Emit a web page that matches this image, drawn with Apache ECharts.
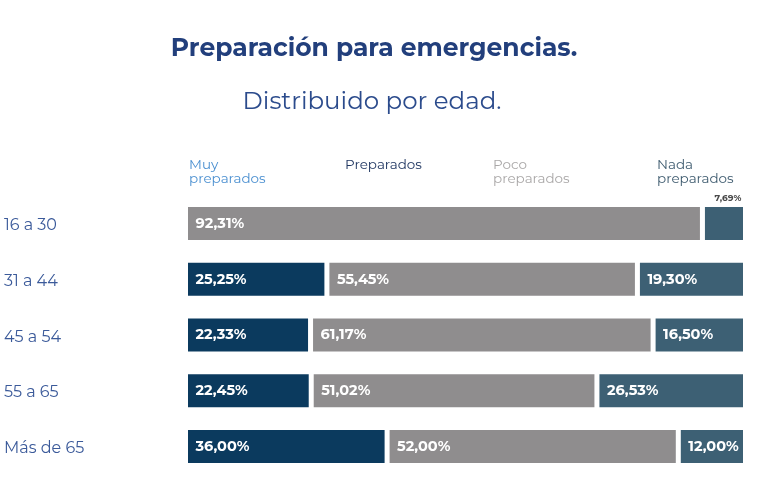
<!DOCTYPE html>
<html><head><meta charset="utf-8">
<script src="https://cdn.jsdelivr.net/npm/echarts@6/dist/echarts.min.js"></script>
<style>html,body{margin:0;padding:0;background:#fff}#c{width:760px;height:503px}</style>
</head><body><div id="c"></div>
<script>
const categories = ['16 a 30', '31 a 44', '45 a 54', '55 a 65', 'Más de 65'];
const seriesNames = ['Muy\npreparados', 'Preparados', 'Poco\npreparados', 'Nada\npreparados'];
const muyPreparados = [0, 0, 0, 0, 0];
const preparados = [0, 25.25, 22.33, 22.45, 36.00];
const pocoPreparados = [92.31, 55.45, 61.17, 51.02, 52.00];
const nadaPreparados = [7.69, 19.30, 16.50, 26.53, 12.00];

const barColors = ['#4a8fd0', '#0b3a5e', '#8f8d8e', '#3d6074'];
const headerColors = ['#4a8fd0', '#1e3560', '#a9a7a7', '#3d5a6e'];
const headerX = [189, 345, 493, 657];
const FONT = 'Montserrat, "Noto Sans", Lato, sans-serif';

function fmt(v) { return v.toFixed(2).replace('.', ',') + '%'; }

const allData = [muyPreparados, preparados, pocoPreparados, nadaPreparados];
const series = allData.map((d, i) => ({
  name: seriesNames[i],
  type: 'bar',
  stack: 'total',
  barWidth: 38,
  data: d.map((v, j) => {
    const item = { value: v };
    if (i === 3 && j === 0) {
      item.label = { position: 'top', offset: [4, 1], color: '#4a4a4a', fontSize: 9, fontWeight: 'bold', distance: 3 };
    }
    return item;
  }),
  itemStyle: { color: barColors[i], borderColor: '#ffffff', borderWidth: 2.5 },
  label: {
    show: true,
    position: 'insideLeft',
    distance: 10,
    color: '#ffffff',
    fontSize: 14.5,
    fontWeight: 'bold',
    fontFamily: FONT,
    formatter: p => p.value > 0 ? fmt(p.value) : ''
  },
  emphasis: { disabled: true }
}));

const chart = echarts.init(document.getElementById('c'));
chart.setOption({
  animation: false,
  backgroundColor: '#ffffff',
  title: [
    { text: 'Preparación para emergencias.', left: 369, textAlign: 'center', top: 31,
      textStyle: { fontFamily: FONT, fontSize: 25, fontWeight: 'bold', color: '#223f7c' } },
    { text: 'Distribuido por edad.', left: 367, textAlign: 'center', top: 84,
      textStyle: { fontFamily: FONT, fontSize: 24.5, fontWeight: 'normal', color: '#2b4b8c' } }
  ],
  grid: { left: 185.5, right: 14.5, top: 195.6, bottom: 28.6, containLabel: false },
  xAxis: { type: 'value', min: 0, max: 100, show: false },
  yAxis: {
    type: 'category', data: categories, inverse: true,
    axisLine: { show: false }, axisTick: { show: false },
    axisLabel: {
      align: 'left', margin: 181.5,
      formatter: v => '{c|' + v + '}',
      rich: { c: { color: '#3b5a9a', fontSize: 16, fontFamily: FONT, padding: [4, 0, 0, 0] } }
    }
  },
  graphic: seriesNames.map((n, i) => ({
    type: 'text', left: headerX[i], top: 158,
    style: { text: n, fill: headerColors[i], fontSize: 13.5, lineHeight: 14, fontFamily: FONT }
  })),
  series: series
});
</script></body></html>
